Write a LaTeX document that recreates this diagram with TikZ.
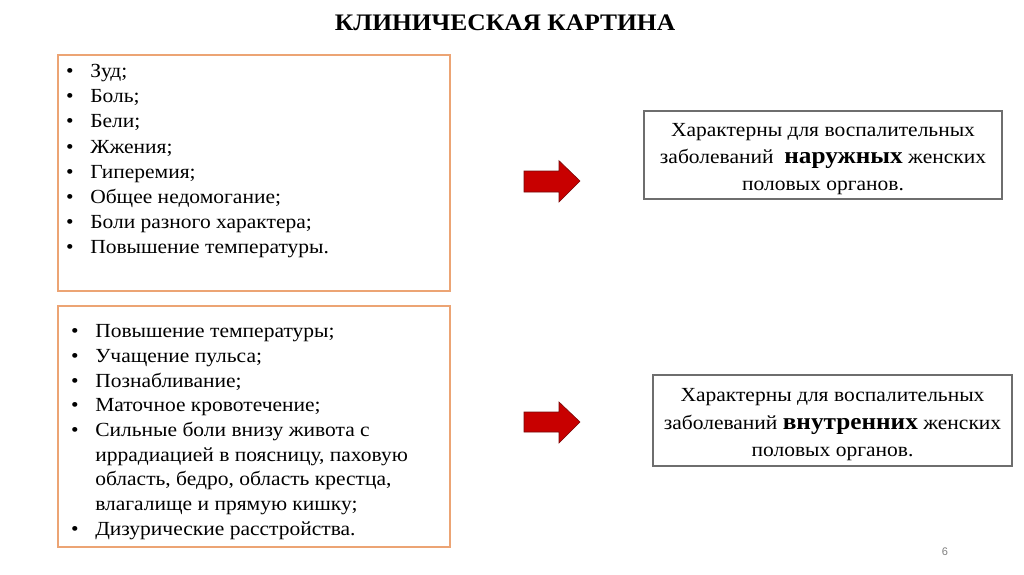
\documentclass[tikz,border=0pt]{standalone}
\usepackage{fontspec}
\setmainfont{Liberation Serif}
\newfontfamily\pagefont{Liberation Sans}
\definecolor{boxorange}{RGB}{236,164,116}
\definecolor{boxgray}{RGB}{110,110,110}
\definecolor{arrowred}{RGB}{200,0,0}
\definecolor{arrowedge}{RGB}{120,10,10}
\newcommand\bitem[1]{\makebox[22.4pt][l]{•}#1}
\newcommand\bcont[1]{\hspace*{22.4pt}#1}
\newcommand\bigbold[1]{{\fontsize{23.5}{27}\selectfont\bfseries #1}}
\begin{document}
\begin{tikzpicture}[x=1pt,y=-1pt,
  leftbox/.style={draw=boxorange,line width=1.1pt,rectangle,inner sep=0pt},
  rightbox/.style={draw=boxgray,line width=1.1pt,rectangle,inner sep=0pt},
  listtext/.style={anchor=base west,inner sep=0pt},
  boxtext/.style={anchor=base,inner sep=0pt},
  redarrow/.style={fill=arrowred,draw=arrowedge,line width=0.6pt,line join=miter}]
\useasboundingbox (0,0) rectangle (1024,574);
\fill[white] (0,0) rectangle (1024,574);
% title
\node[anchor=base,inner sep=0pt] (title) at (505,30.7) {\scalebox{1.075}[1]{\fontsize{23.7}{28}\selectfont\bfseries КЛИНИЧЕСКАЯ КАРТИНА}};
% left boxes
\node[leftbox,minimum width=392pt,minimum height=236pt] (lb1) at (254,173) {};
\node[leftbox,minimum width=392pt,minimum height=241pt] (lb2) at (254,426.5) {};
\node[listtext] (lt1) at (66,77.7) {\scalebox{1.075}[1]{\parbox[t]{340pt}{\fontsize{20}{25.1}\selectfont
\bitem{Зуд;}\\
\bitem{Боль;}\\
\bitem{Бели;}\\
\bitem{Жжения;}\\
\bitem{Гиперемия;}\\
\bitem{Общее недомогание;}\\
\bitem{Боли разного характера;}\\
\bitem{Повышение температуры.}}}};
\node[listtext] (lt2) at (71,337.7) {\scalebox{1.075}[1]{\parbox[t]{340pt}{\fontsize{20}{24.7}\selectfont
\bitem{Повышение температуры;}\\
\bitem{Учащение пульса;}\\
\bitem{Познабливание;}\\
\bitem{Маточное кровотечение;}\\
\bitem{Сильные боли внизу живота с}\\
\bcont{иррадиацией в поясницу, паховую}\\
\bcont{область, бедро, область крестца,}\\
\bcont{влагалище и прямую кишку;}\\
\bitem{Дизурические расстройства.}}}};
% right boxes
\node[rightbox,minimum width=358pt,minimum height=88pt] (rb1) at (823,155) {};
\node[rightbox,minimum width=359pt,minimum height=91pt] (rb2) at (832.5,420.5) {};
\node[boxtext] (rt1) at (823,136.7) {\scalebox{1.075}[1]{\parbox[t]{325pt}{\centering\lineskiplimit=-20pt\fontsize{20}{27}\selectfont
Характерны для воспалительных\\заболеваний \ \bigbold{наружных} женских\\половых органов.}}};
\node[boxtext] (rt2) at (832.5,401.7) {\scalebox{1.075}[1]{\parbox[t]{325pt}{\centering\lineskiplimit=-20pt\fontsize{20}{27.5}\selectfont
Характерны для воспалительных\\заболеваний \bigbold{внутренних} женских\\половых органов.}}};
% arrows
\draw[redarrow] (524,171) -- (559,171) -- (559,160.7) -- (580,181) -- (559,202) -- (559,192) -- (524,192) -- cycle;
\draw[redarrow] (524,412) -- (559,412) -- (559,402) -- (580,422) -- (559,443) -- (559,432) -- (524,432) -- cycle;
% page number
\node[anchor=base,inner sep=0pt,text=gray,font=\pagefont\fontsize{11}{13}\selectfont] (pnum) at (945,555) {6};
\end{tikzpicture}
\end{document}
